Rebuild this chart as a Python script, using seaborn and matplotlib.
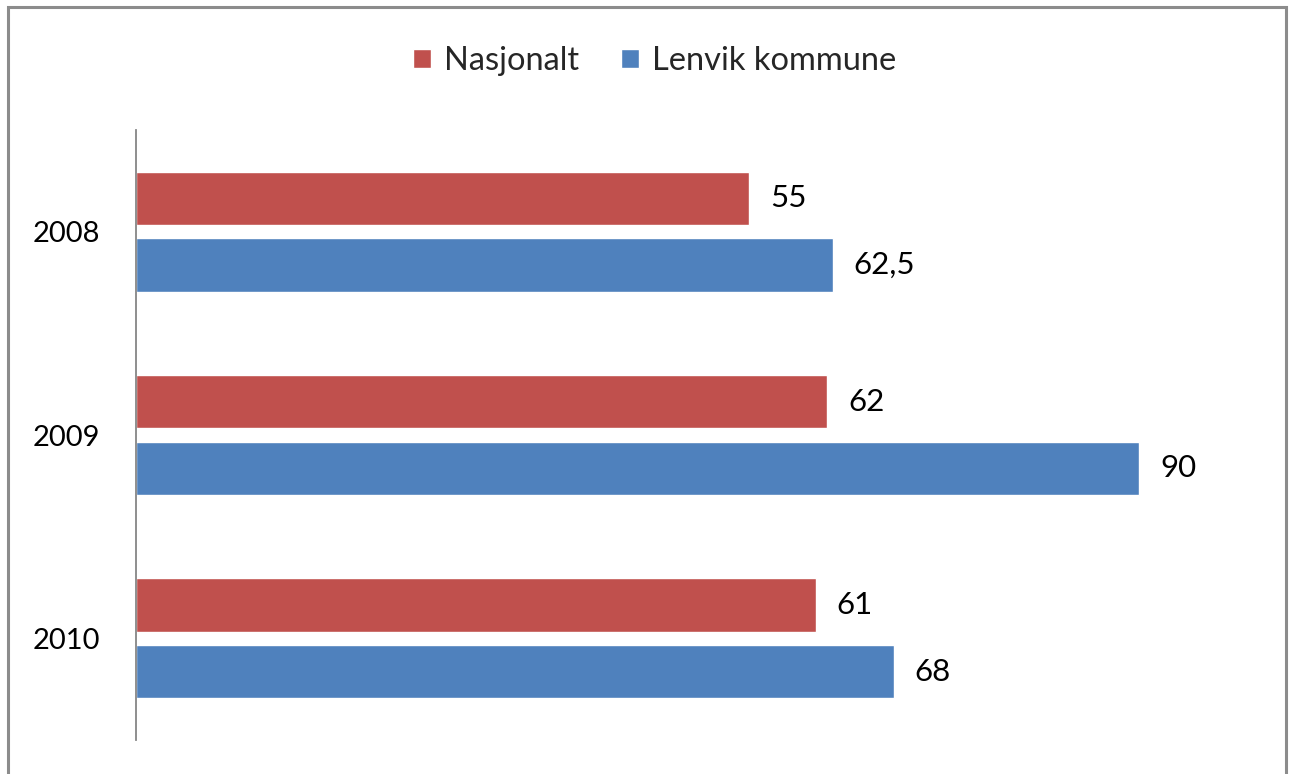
import matplotlib
matplotlib.use("Agg")
import matplotlib.pyplot as plt
import seaborn as sns
import pandas as pd
from matplotlib.patches import Rectangle

# === Data ===
years = ["2008", "2009", "2010"]
nasjonalt = [55, 62, 61]
lenvik = [62.5, 90, 68]
series = ["Nasjonalt", "Lenvik kommune"]
colors = ["#C0504D", "#4F81BD"]

df = pd.DataFrame({
    "year": years * 2,
    "value": nasjonalt + lenvik,
    "series": [series[0]] * len(years) + [series[1]] * len(years),
})

sns.set_style("white")
plt.rcParams["font.family"] = ["Lato", "DejaVu Sans"]

fig = plt.figure(figsize=(12.89, 7.74), dpi=100)
ax = fig.add_axes([136 / 1289, 1 - 740 / 774, (1206 - 136) / 1289, (740 - 130) / 774])

sns.barplot(data=df, y="year", x="value", hue="series", order=years,
            hue_order=series, palette=colors, orient="h",
            width=0.653, gap=0.197, saturation=1, ax=ax)

# value labels with decimal comma
for container in ax.containers:
    labels = [f"{v:g}".replace(".", ",") for v in container.datavalues]
    ax.bar_label(container, labels=labels, padding=15, fontsize=22.5, color="#000000")

ax.set_xlim(0, 96)
ax.set_xlabel("")
ax.set_ylabel("")
ax.set_xticks([])
for side in ["top", "right", "bottom"]:
    ax.spines[side].set_visible(False)
ax.spines["left"].set_color("#868686")
ax.spines["left"].set_linewidth(1.3)
ax.tick_params(axis="y", length=0, pad=26, labelsize=21, labelcolor="#000000")

# legend at the top
handles, labels = ax.get_legend_handles_labels()
ax.legend(handles, labels, loc="center", bbox_to_anchor=(0.508, 0.921),
          bbox_transform=fig.transFigure, ncol=2, frameon=False, fontsize=23.5,
          handlelength=0.55, handleheight=0.55, handletextpad=0.4,
          columnspacing=1.3)

# outer frame like the source screenshot
fig.add_artist(Rectangle((7.5 / 1289, -0.1), (1286 - 7.5) / 1289, 1.1 - 7.5 / 774,
                         transform=fig.transFigure, fill=False,
                         edgecolor="#8c8c8c", linewidth=2.2))

fig.savefig("out.png", dpi=100)
